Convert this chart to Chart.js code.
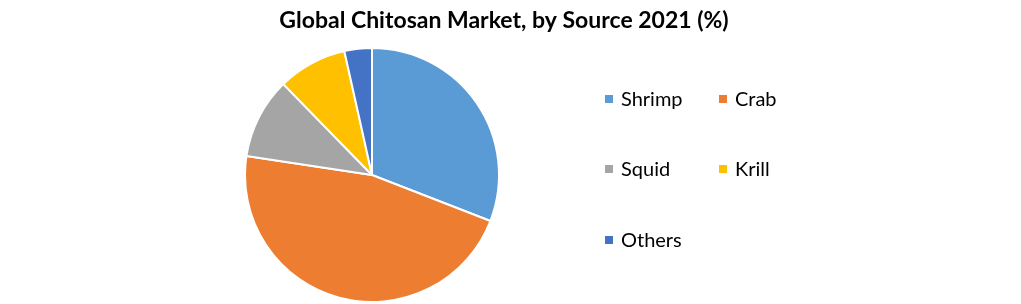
<!DOCTYPE html>
<html><head><meta charset="utf-8">
<script src="https://cdn.jsdelivr.net/npm/chart.js@4.4.1/dist/chart.umd.min.js"></script>
<style>html,body{margin:0;padding:0;background:#fff}#wrap{position:relative;width:1021px;height:304px}</style>
</head><body><div id="wrap"><canvas id="c" width="1021" height="304"></canvas></div>
<script>
const title = 'Global Chitosan Market, by Source 2021 (%)';
const categories = ['Shrimp', 'Crab', 'Squid', 'Krill', 'Others'];
const shares = [30.9, 46.5, 10.3, 8.8, 3.5];
const colors = ['#5B9BD5', '#ED7D31', '#A5A5A5', '#FFC000', '#4472C4'];

const FONT = 'Lato, "Open Sans", sans-serif';

const overlay = {
  id: 'overlay',
  afterDraw(chart) {
    const ctx = chart.ctx;
    ctx.save();
    ctx.fillStyle = '#000';
    ctx.textBaseline = 'alphabetic';
    ctx.textAlign = 'center';
    ctx.font = 'bold 23px ' + FONT;
    ctx.fillText(title, 504, 28);
    // legend
    const pos = [[605, 99], [719, 99], [605, 169], [719, 169], [605, 240]];
    ctx.textAlign = 'left';
    ctx.textBaseline = 'middle';
    ctx.font = '20px ' + FONT;
    const items = chart.options.plugins.legend.labels.generateLabels(chart);
    items.forEach((it, i) => {
      const [x, y] = pos[i];
      ctx.fillStyle = it.fillStyle;
      ctx.fillRect(x, y - 4, 8, 8);
      ctx.fillStyle = '#000';
      ctx.fillText(it.text, x + 16, y + 1);
    });
    ctx.restore();
  }
};

new Chart(document.getElementById('c'), {
  type: 'pie',
  data: {
    labels: categories,
    datasets: [{ data: shares, backgroundColor: colors, borderColor: '#fff', borderWidth: 2 }]
  },
  options: {
    responsive: false,
    animation: false,
    layout: { padding: { left: 244, right: 521, top: 47, bottom: 1 } },
    plugins: { legend: { display: false }, title: { display: false }, tooltip: { enabled: false } }
  },
  plugins: [overlay]
});
</script></body></html>
